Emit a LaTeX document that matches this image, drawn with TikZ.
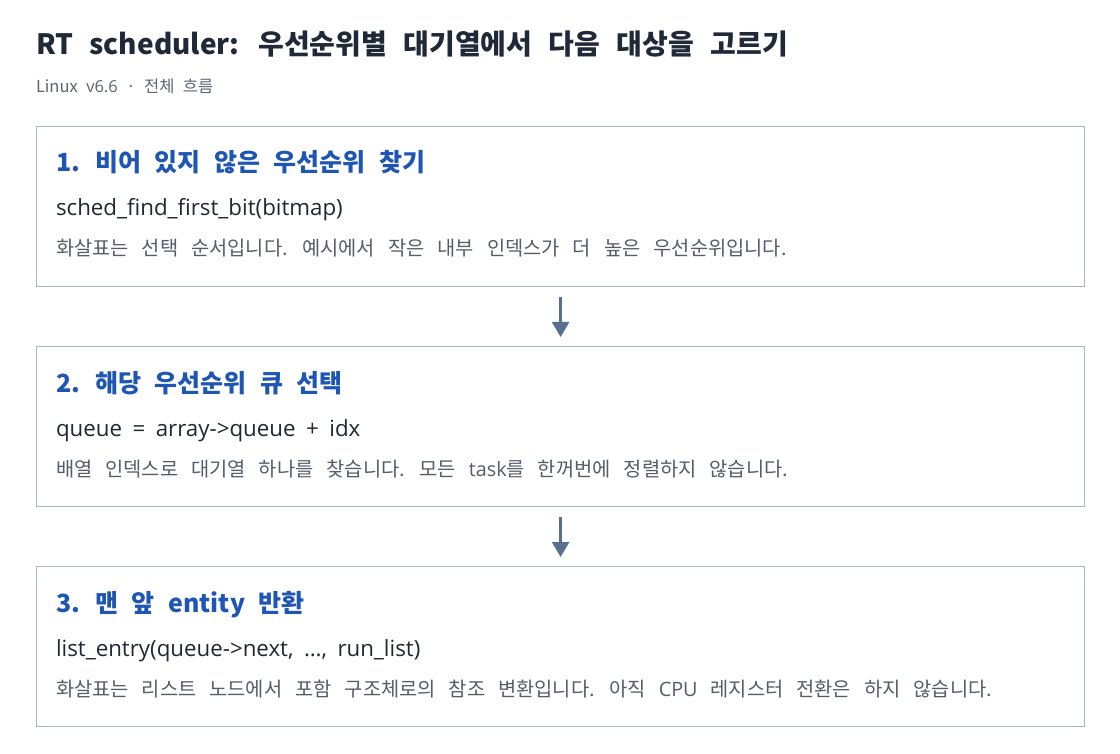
\documentclass[tikz,border=0pt]{standalone}
\usepackage{fontspec}
\setmainfont{Noto Sans CJK KR}
\newfontfamily\latinf{Open Sans}
\usetikzlibrary{arrows.meta}
\newcommand\wsp[1]{\spaceskip #1\relax}
\definecolor{titlec}{HTML}{1F2937}
\definecolor{subc}{HTML}{5B6573}
\definecolor{headc}{HTML}{1F56B3}
\definecolor{codec}{HTML}{1F2733}
\definecolor{descc}{HTML}{535D6B}
\definecolor{boxc}{HTML}{A9B5C3}
\definecolor{arrc}{HTML}{56708E}
\tikzset{
  txt/.style={anchor=base west, inner sep=0pt, outer sep=0pt},
  titletxt/.style={txt, text=titlec, font=\fontsize{28}{32}\selectfont\bfseries},
  subtxt/.style={txt, text=subc, font=\fontsize{16.5}{20}\selectfont},
  headtxt/.style={txt, text=headc, font=\fontsize{25}{29}\selectfont\bfseries},
  codetxt/.style={txt, text=codec, font=\latinf\fontsize{22.3}{26}\selectfont},
  desctxt/.style={txt, text=descc, font=\fontsize{19.8}{23}\selectfont},
  stepbox/.style={draw=boxc, line width=1.2pt, fill=white, minimum width=1048pt, minimum height=160pt, anchor=north west, inner sep=0pt},
  flow/.style={draw=arrc, line width=2.6pt, -{Triangle[width=17pt,length=15pt]}, shorten <=10pt, shorten >=9pt}
}
\begin{document}
\begin{tikzpicture}[x=1pt,y=-1pt]
\useasboundingbox[fill=white] (0,0) rectangle (1120,754);
\node[titletxt] (title) at (36,55) {\wsp{16.5pt}RT scheduler: 우선순위별 대기열에서 다음 대상을 고르기};
\node[subtxt] (sub) at (36,93) {\wsp{8.5pt}Linux {\latinf v6.6} · 전체 흐름};

\node[stepbox] (b1) at (36,126) {};
\node[stepbox] (b2) at (36,346) {};
\node[stepbox] (b3) at (36,566) {};

\node[headtxt] (h1) at (56,172) {\wsp{13.5pt}1. 비어 있지 않은 우선순위 찾기};
\node[codetxt] (c1) at (56,216) {\wsp{10.5pt}sched\_find\_first\_bit(bitmap)};
\node[desctxt] (d1) at (56,256) {\wsp{13pt}화살표는 선택 순서입니다. 예시에서 작은 내부 인덱스가 더 높은 우선순위입니다.};

\node[headtxt] (h2) at (56,392) {\wsp{13.5pt}2. 해당 우선순위 큐 선택};
\node[codetxt] (c2) at (56,436) {\wsp{10.5pt}queue = array->queue + idx};
\node[desctxt] (d2) at (56,476) {\wsp{13pt}배열 인덱스로 대기열 하나를 찾습니다. 모든 {\latinf task}를 한꺼번에 정렬하지 않습니다.};

\node[headtxt] (h3) at (56,612) {\wsp{13.5pt}3. 맨 앞 entity 반환};
\node[codetxt] (c3) at (56,656) {\wsp{10.5pt}list\_entry(queue->next, …, run\_list)};
\node[desctxt] (d3) at (56,696) {\wsp{13pt}화살표는 리스트 노드에서 포함 구조체로의 참조 변환입니다. 아직 {\latinf CPU} 레지스터 전환은 하지 않습니다.};

\draw[flow] (b1.south) -- (b2.north);
\draw[flow] (b2.south) -- (b3.north);
\end{tikzpicture}
\end{document}
